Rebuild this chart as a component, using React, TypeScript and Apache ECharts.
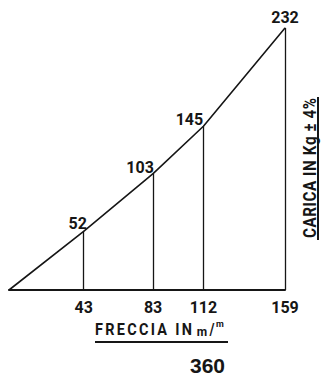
import React, { useEffect, useRef } from "react";
import * as echarts from "echarts";

const freccia = [0, 43, 83, 112, 159];
const carica = [0, 52, 103, 145, 232];
const xTicks = [43, 83, 112, 159];
const xTitle = "FRECCIA IN";
const xUnitA = "m";
const xUnitSlash = "/";
const xUnitB = "m";
const yTitle = "CARICA IN Kg ± 4%";
const pageLabel = "360";

const FONT = "Roboto, 'Liberation Sans', sans-serif";
const INK = "#161616";
const labelOffsets: [number, number][] = [[0, 0], [-6, 1], [-13, 2], [-14, 2], [0, -2]];

let ctx: CanvasRenderingContext2D | null = null;
function measure(t: string, size: number) {
  if (!ctx) ctx = document.createElement("canvas").getContext("2d");
  if (!ctx) return size * 0.6;
  ctx.font = `bold ${size}px Roboto, 'Liberation Sans', sans-serif`;
  return ctx.measureText(t).width;
}

function textStyle(ch: string, size: number) {
  return {
    text: ch,
    fontFamily: FONT,
    fontWeight: "bold",
    fontSize: size,
    fill: INK,
    textAlign: "center",
    textVerticalAlign: "middle",
  };
}

// letters spread evenly between start and end along one direction
function spread(str: string, start: number, end: number, cross: number, size: number, sx: number, vertical: boolean) {
  const chars = Array.from(str);
  const widths = chars.map((c) => measure(c, size) * sx);
  const total = widths.reduce((a, b) => a + b, 0);
  const gap = (Math.abs(end - start) - total) / (chars.length - 1);
  const out: any[] = [];
  let cur = 0;
  chars.forEach((c, i) => {
    const mid = cur + widths[i] / 2;
    cur += widths[i] + gap;
    if (c === " ") return;
    if (vertical) {
      out.push({ type: "text", x: cross, y: start - mid, rotation: Math.PI / 2, scaleX: sx, style: textStyle(c, size) });
    } else {
      out.push({ type: "text", x: start + mid, y: cross, scaleX: sx, style: textStyle(c, size) });
    }
  });
  return out;
}

export default function App() {
  const ref = useRef<HTMLDivElement>(null);
  useEffect(() => {
    if (!ref.current) return;
    const chart = echarts.init(ref.current, null, { renderer: "svg" });
    const labelFont = { color: INK, fontFamily: FONT, fontWeight: "bold", fontSize: 16 };
    chart.setOption({
      animation: false,
      backgroundColor: "#ffffff",
      grid: { left: 9, right: 38, top: 28, bottom: 89 },
      xAxis: {
        type: "value",
        min: 0,
        max: 159,
        axisLine: { show: true, lineStyle: { color: INK, width: 2 } },
        axisTick: { show: false },
        splitLine: { show: false },
        axisLabel: { customValues: xTicks, margin: 9, ...labelFont },
      },
      yAxis: { type: "value", min: 0, max: 232, show: false },
      series: [
        {
          type: "line",
          data: freccia.map((x, i) => ({
            value: [x, carica[i]],
            label: { show: i > 0, offset: labelOffsets[i] },
          })),
          symbol: "circle",
          symbolSize: 1,
          itemStyle: { color: INK },
          lineStyle: { color: INK, width: 1.6 },
          label: { position: "top", distance: 0, ...labelFont },
          markLine: {
            silent: true,
            symbol: "none",
            label: { show: false },
            lineStyle: { color: INK, width: 1.3, type: "solid" },
            data: freccia.slice(1).map((x, i) => [
              { coord: [x, 0] },
              { coord: [x, carica[i + 1]] },
            ]),
          },
        },
      ],
      graphic: [
        ...spread(xTitle, 95, 192, 329, 17, 0.85, false),
        { type: "text", x: 202, y: 331.5, style: textStyle(xUnitA, 12) },
        { type: "text", x: 212, y: 329, scaleX: 0.8, style: textStyle(xUnitSlash, 17) },
        { type: "text", x: 220, y: 323.5, style: textStyle(xUnitB, 9) },
        { type: "line", shape: { x1: 95, y1: 342, x2: 228, y2: 342 }, style: { stroke: INK, lineWidth: 2 } },
        {
          type: "text",
          x: 207.5,
          y: 365,
          style: {
            text: pageLabel,
            fontFamily: "'Liberation Sans', Arial, sans-serif",
            fontWeight: "bold",
            fontSize: 21,
            fill: INK,
            textAlign: "center",
            textVerticalAlign: "middle",
          },
        },
        ...spread(yTitle, 238, 98, 309, 19, 0.8, true),
        { type: "line", shape: { x1: 318, y1: 97, x2: 318, y2: 240 }, style: { stroke: INK, lineWidth: 2 } },
      ],
    });
    return () => chart.dispose();
  }, []);
  return (
    <div
      ref={ref}
      style={{ position: "absolute", left: 0, top: 0, width: 323, height: 379 }}
    />
  );
}
